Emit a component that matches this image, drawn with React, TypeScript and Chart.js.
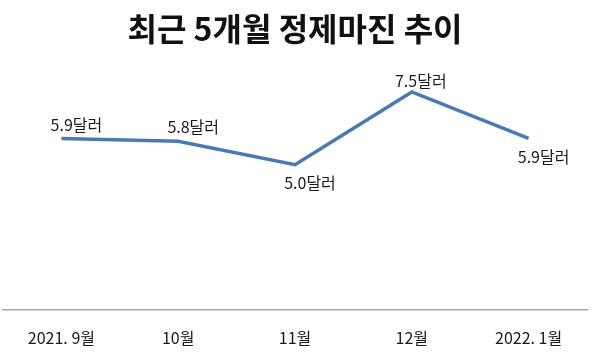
import React, { useEffect, useRef } from "react";
import { Chart, registerables } from "chart.js";

Chart.register(...registerables);

const TITLE = "최근 5개월 정제마진 추이";
const categories = ["2021. 9월", "10월", "11월", "12월", "2022. 1월"];
const values = [5.9, 5.8, 5.0, 7.5, 5.9];
const pointLabels = ["5.9달러", "5.8달러", "5.0달러", "7.5달러", "5.9달러"];
const labelSides = ["top", "top", "bottom", "top", "bottom"];

const FONT = "'Noto Sans CJK KR', 'Noto Sans', sans-serif";

const labelPlugin = {
  id: "pointLabelsPlugin",
  afterDatasetsDraw(chart: any) {
    const ctx = chart.ctx;
    const meta = chart.getDatasetMeta(0);
    ctx.save();
    ctx.font = `16px ${FONT}`;
    ctx.fillStyle = "#1a1a1a";
    ctx.textAlign = "center";
    ctx.textBaseline = "middle";
    meta.data.forEach((pt: any, i: number) => {
      const side = labelSides[i];
      const dx = i === 3 ? 9 : 15;
      const dy = side === "top" ? (i === 3 ? -11 : -14) : 18;
      ctx.fillText(pointLabels[i], pt.x + dx, pt.y + dy);
    });
    ctx.restore();
  },
};

export default function App() {
  const ref = useRef<HTMLCanvasElement>(null);
  useEffect(() => {
    document.body.style.margin = "0";
    const chart = new Chart(ref.current as HTMLCanvasElement, {
      type: "line",
      data: {
        labels: categories,
        datasets: [
          {
            data: values,
            borderColor: "#4a7ab6",
            borderWidth: 3.5,
            pointRadius: 0,
            tension: 0,
            fill: false,
          },
        ],
      },
      options: {
        responsive: false,
        animation: false,
        layout: { padding: { left: 3, right: 13, top: 0, bottom: 0 } },
        plugins: {
          legend: { display: false },
          tooltip: { enabled: false },
          title: {
            display: true,
            text: TITLE,
            color: "#111",
            font: { family: FONT, size: 32, weight: "bold", lineHeight: 1.2 },
            padding: { top: 10, bottom: 29 },
          },
        },
        scales: {
          x: {
            offset: true,
            grid: { display: false, drawTicks: false },
            border: { display: true, color: "#a8a8a8", width: 1.5 },
            ticks: {
              color: "#1a1a1a",
              font: { family: FONT, size: 16 },
              padding: 18,
              maxRotation: 0,
              autoSkip: false,
            },
            afterFit: (scale: any) => {
              scale.height = 46;
            },
          },
          y: {
            display: false,
            min: 0,
            max: 8,
          },
        },
      },
      plugins: [labelPlugin],
    });
    return () => chart.destroy();
  }, []);
  return <canvas ref={ref} width={600} height={356} style={{ display: "block" }} />;
}
